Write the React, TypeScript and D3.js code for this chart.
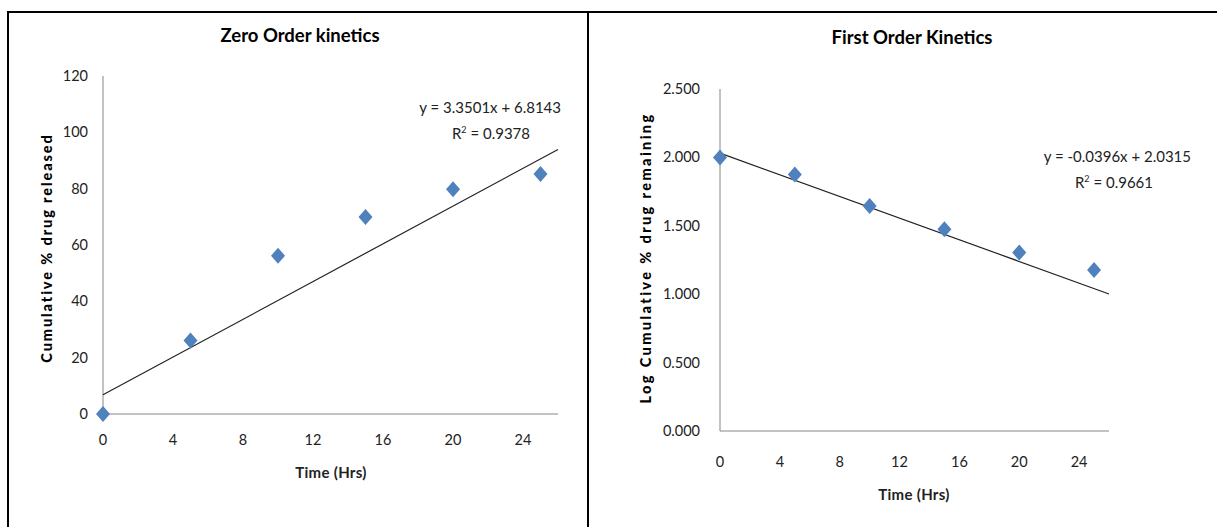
import React from "react";
import * as d3 from "d3";

const times = [0, 5, 10, 15, 20, 25];
const releasedPct = [0, 26.1, 56.2, 69.9, 79.8, 85.2];
const logRemaining = [2.0, 1.875, 1.644, 1.474, 1.304, 1.176];
const zeroTicksY = [0, 20, 40, 60, 80, 100, 120];
const firstTicksY = [0, 0.5, 1.0, 1.5, 2.0, 2.5];
const ticksX = [0, 4, 8, 12, 16, 20, 24];
const zeroFit = { slope: 3.3501, intercept: 6.8143, r2: "0.9378", eq: "y = 3.3501x + 6.8143" };
const firstFit = { slope: -0.0396, intercept: 2.0315, r2: "0.9661", eq: "y = -0.0396x + 2.0315" };

const FONT = "Lato, 'Open Sans', sans-serif";
const AXIS = "#868686";
const BLUE = "#4F81BD";

function diamondPath(hw: number, hh: number) {
  const p = d3.path();
  p.moveTo(0, -hh);
  p.lineTo(hw, 0);
  p.lineTo(0, hh);
  p.lineTo(-hw, 0);
  p.closePath();
  return p.toString();
}

type PanelProps = {
  title: string; titleX: number; titleY: number;
  x0: number; x1: number; y0: number; y1: number;
  yMax: number; yTicks: number[]; yFmt: (v: number) => string; yTickOffset: number;
  values: number[]; fit: { slope: number; intercept: number; r2: string; eq: string };
  yLabel: string; yLabelX: number; yLabelY: number; yLabelSpacing: number;
  xLabelY: number; xLabelX: number; xTickDy: number;
  eqX: number; eqY: number; r2X: number; r2Y: number;
};

function Panel(p: PanelProps) {
  const x = d3.scaleLinear().domain([0, 26]).range([p.x0, p.x1]);
  const y = d3.scaleLinear().domain([0, p.yMax]).range([p.y0, p.y1]);
  const fitLine = d3.line<number>().x((t) => x(t)).y((t) => y(p.fit.slope * t + p.fit.intercept))([0, 26]);
  const diamond = diamondPath(7, 8);
  return (
    <g fontFamily={FONT}>
      <text x={p.titleX} y={p.titleY} textAnchor="middle" fontWeight="bold" fontSize={18.5} fill="#000">{p.title}</text>
      <line x1={p.x0} x2={p.x0} y1={p.y0} y2={p.y1} stroke={AXIS} strokeWidth={1} />
      <line x1={p.x0} x2={p.x1} y1={p.y0} y2={p.y0} stroke={AXIS} strokeWidth={1} />
      {p.yTicks.map((v) => (
        <text key={v} x={p.x0 - p.yTickOffset} y={y(v)} dy="0.35em" textAnchor="end" fontSize={14.5} fill="#222">{p.yFmt(v)}</text>
      ))}
      {ticksX.map((v) => (
        <text key={v} x={x(v)} y={p.y0 + p.xTickDy} textAnchor="middle" fontSize={14.5} fill="#222">{v}</text>
      ))}
      <text x={p.xLabelX} y={p.xLabelY} textAnchor="middle" fontWeight="bold" fontSize={15} letterSpacing={0.3} fill="#222">Time (Hrs)</text>
      <text transform={`translate(${p.yLabelX},${p.yLabelY}) rotate(-90)`} textAnchor="middle" fontWeight="900" fontSize={14.5} fill="#000" letterSpacing={p.yLabelSpacing}>{p.yLabel}</text>
      <path d={fitLine || ""} stroke="#222" strokeWidth={1.2} fill="none" />
      {times.map((t, i) => (
        <path key={t} d={diamond} transform={`translate(${x(t)},${y(p.values[i])})`} fill={BLUE} />
      ))}
      <text x={p.eqX} y={p.eqY} textAnchor="end" fontSize={15} fill="#222">{p.fit.eq}</text>
      <text x={p.r2X} y={p.r2Y} textAnchor="end" fontSize={15} fill="#222">
        R<tspan dy="-6" fontSize={9}>2</tspan><tspan dy="6"> = {p.fit.r2}</tspan>
      </text>
    </g>
  );
}

export default function App() {
  return (
    <div style={{ position: "absolute", left: 0, top: 0 }}>
      <svg width={1217} height={527} style={{ display: "block", background: "#fff" }}>
        <rect x={0} y={0} width={1217} height={527} fill="#fff" />
        <line x1={7} x2={1217} y1={12} y2={12} stroke="#000" strokeWidth={2} />
        <line x1={8} x2={8} y1={12} y2={527} stroke="#000" strokeWidth={2} />
        <line x1={588} x2={588} y1={12} y2={527} stroke="#000" strokeWidth={2} />
        <Panel
          title="Zero Order kinetics" titleX={300} titleY={42}
          x0={103} x1={558} y0={414} y1={76}
          yMax={120} yTicks={zeroTicksY} yFmt={(v) => String(v)} yTickOffset={15}
          values={releasedPct} fit={zeroFit}
          yLabel="Cumulative % drug released" yLabelX={52} yLabelY={248} yLabelSpacing={1.9}
          xLabelX={331} xLabelY={478} xTickDy={31}
          eqX={561} eqY={113} r2X={530} r2Y={139}
        />
        <Panel
          title="First Order Kinetics" titleX={912} titleY={44}
          x0={720} x1={1109} y0={431} y1={89}
          yMax={2.5} yTicks={firstTicksY} yFmt={(v) => v.toFixed(3)} yTickOffset={20}
          values={logRemaining} fit={firstFit}
          yLabel="Log Cumulative % drug remaining" yLabelX={651} yLabelY={258} yLabelSpacing={2.4}
          xLabelX={914} xLabelY={500} xTickDy={36}
          eqX={1191} eqY={162} r2X={1153} r2Y={188}
        />
      </svg>
    </div>
  );
}
